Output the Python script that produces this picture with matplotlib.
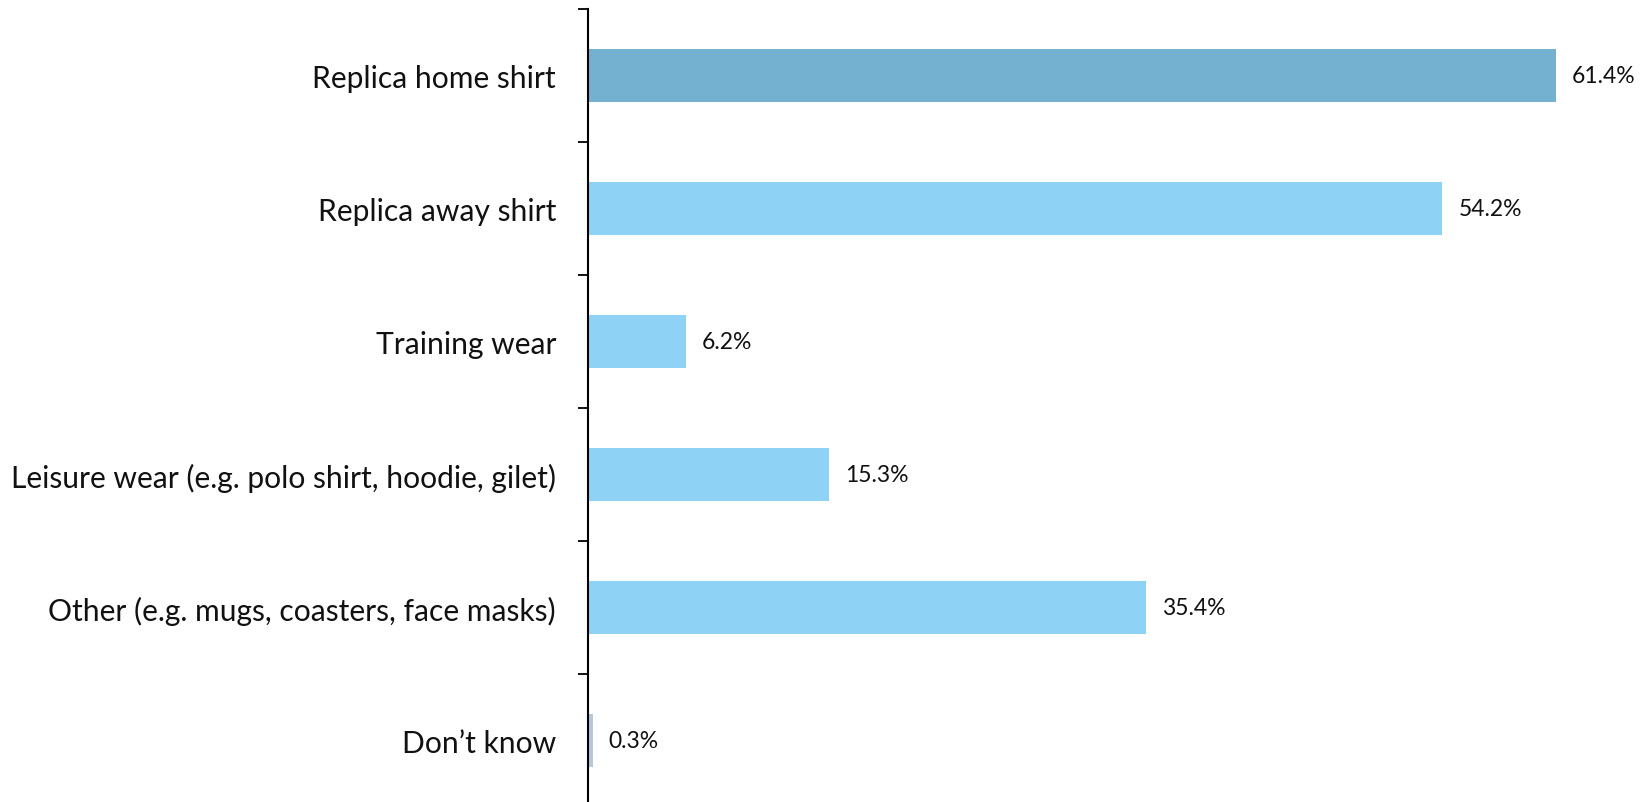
import numpy as np
from matplotlib import pyplot as plt

categories = ['Replica home shirt', 'Replica away shirt', 'Training wear',
              'Leisure wear (e.g. polo shirt, hoodie, gilet)',
              'Other (e.g. mugs, coasters, face masks)', 'Don\u2019t know']
values = [61.4, 54.2, 6.2, 15.3, 35.4, 0.3]
bar_colors = ['#74B1D1', '#8ED2F6', '#8ED2F6', '#8ED2F6', '#8ED2F6', '#B5C9DB']

plt.rcParams['font.family'] = ['Lato', 'DejaVu Sans']

fig = plt.figure(figsize=(16.52, 8.03), dpi=100)
ax = fig.add_axes([588 / 1652, -5 / 803, 1 - 588 / 1652, 803 / 803 - 10 / 803 + 5 / 803])

y = np.arange(len(categories))
ax.barh(y, values, height=0.4, color=bar_colors)
for yi, v in zip(y, values):
    ax.annotate(f'{v:.1f}%', (v, yi), xytext=(16, 0), textcoords='offset pixels',
                va='center', ha='left', fontsize=16.5, color='#111111')

ax.set_ylim(len(categories) - 0.5, -0.5)
ax.set_xlim(0, 1064 / 968 * 61.4)

ax.set_yticks(y)
ax.set_yticklabels(categories, fontsize=21.6, color='#111111')
ax.set_yticks(np.arange(-0.5, len(categories), 1), minor=True)
ax.tick_params(axis='y', which='major', length=0, pad=23)
ax.tick_params(axis='y', which='minor', length=7.5, width=1.3, direction='out')
ax.set_xticks([])

for side in ['top', 'right', 'bottom']:
    ax.spines[side].set_visible(False)
ax.spines['left'].set_linewidth(1.5)

plt.savefig('out.png', dpi=100)
